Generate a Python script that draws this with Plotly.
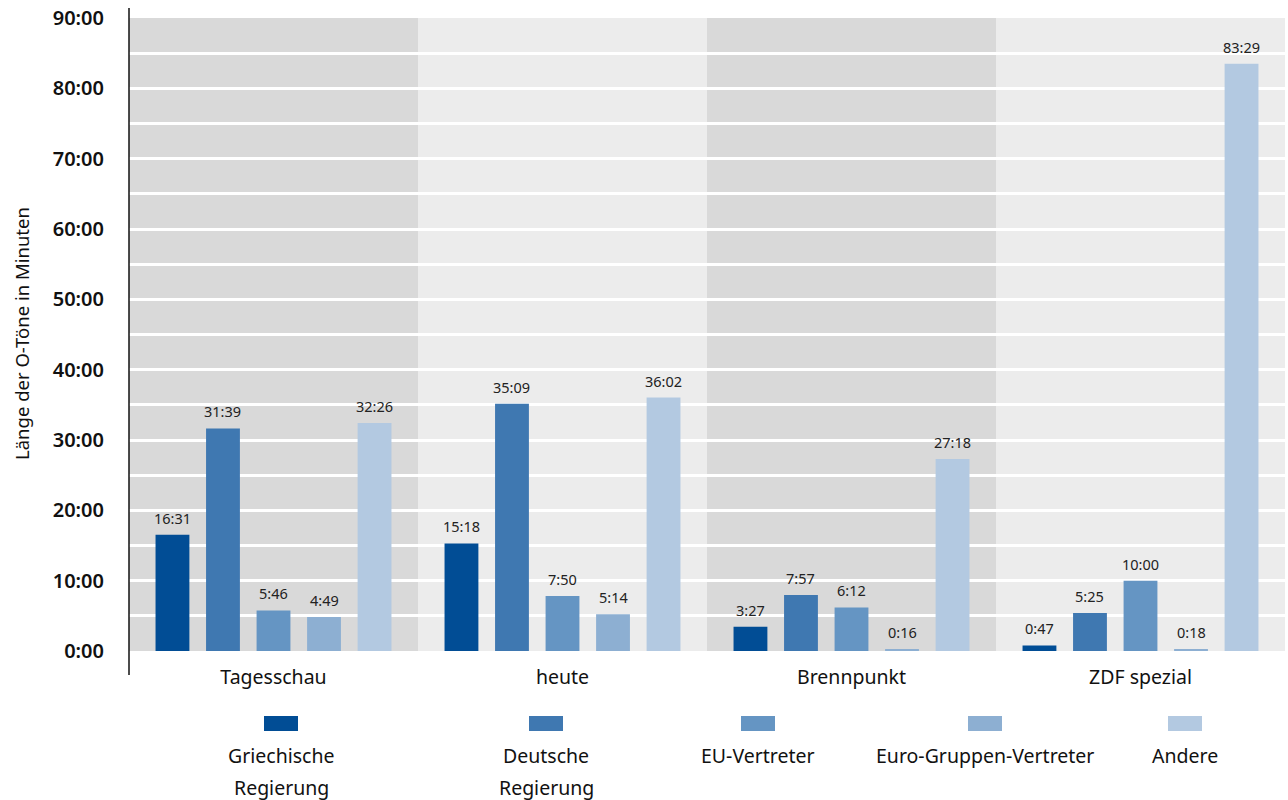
import plotly.graph_objects as go

categories = ["Tagesschau", "heute", "Brennpunkt", "ZDF spezial"]
series_names = ["Griechische Regierung", "Deutsche Regierung", "EU-Vertreter",
                "Euro-Gruppen-Vertreter", "Andere"]
legend_lines = [["Griechische", "Regierung"], ["Deutsche", "Regierung"], ["EU-Vertreter"],
                ["Euro-Gruppen-Vertreter"], ["Andere"]]
griechische = ["16:31", "15:18", "3:27", "0:47"]
deutsche = ["31:39", "35:09", "7:57", "5:25"]
eu = ["5:46", "7:50", "6:12", "10:00"]
eurogruppe = ["4:49", "5:14", "0:16", "0:18"]
andere = ["32:26", "36:02", "27:18", "83:29"]
series_values = [griechische, deutsche, eu, eurogruppe, andere]
colors = ["#014d95", "#3f78b1", "#6595c3", "#8dafd2", "#b3c9e1"]
tick_values = [0, 10, 20, 30, 40, 50, 60, 70, 80, 90]
tick_labels = ["0:00", "10:00", "20:00", "30:00", "40:00", "50:00", "60:00", "70:00", "80:00", "90:00"]
band_colors = ["#d9d9d9", "#ececec", "#d9d9d9", "#ececec"]
y_title = "Länge der O-Töne in Minuten"


def to_minutes(s):
    m, sec = s.split(":")
    return int(m) + int(sec) / 60.0


FONT = "Noto Sans"
W, H = 1288, 800
PL, PR, PT, PB = 129, 1285, 18, 651  # plot area in page pixels
BARGAP, GROUPGAP = 0.126, 0.33


def px(x):
    return (x - PL) / (PR - PL)


def py(y):
    return (PB - y) / (PB - PT)


fig = go.Figure()
n = len(series_names)
slot = (1 - BARGAP) / n
annotations = []
for j, (name, vals, col) in enumerate(zip(series_names, series_values, colors)):
    mins = [to_minutes(v) for v in vals]
    fig.add_trace(go.Bar(
        x=categories, y=mins, name=name,
        marker=dict(color=col, line=dict(width=0)),
        showlegend=False, hoverinfo="skip",
    ))
    for i, (v, m) in enumerate(zip(vals, mins)):
        annotations.append(dict(xref="x", yref="y", x=i + (j - (n - 1) / 2) * slot, y=m,
                                text=v, showarrow=False, xanchor="center", yanchor="bottom",
                                yshift=5, font=dict(family=FONT, size=14.5, color="#222222")))

shapes = []
for i, bc in enumerate(band_colors):
    shapes.append(dict(type="rect", xref="x", yref="y", x0=i - 0.5, x1=i + 0.5,
                       y0=0, y1=90, fillcolor=bc, line=dict(width=0), layer="below"))
shapes.append(dict(type="line", xref="paper", yref="paper", x0=0, x1=0,
                   y0=py(675), y1=py(8), line=dict(color="#111111", width=1.5)))

swatch_centers = [281, 546, 758, 985, 1185]
for cx, col, lines in zip(swatch_centers, colors, legend_lines):
    shapes.append(dict(type="rect", xref="paper", yref="paper",
                       x0=px(cx - 17), x1=px(cx + 17), y0=py(731), y1=py(716),
                       fillcolor=col, line=dict(width=0)))
    for k, ln in enumerate(lines):
        annotations.append(dict(xref="paper", yref="paper", x=px(cx), y=py(755 + 32 * k),
                                text=ln, showarrow=False, xanchor="center", yanchor="middle",
                                font=dict(family=FONT, size=19.5, color="#111111")))

annotations.append(dict(xref="paper", yref="paper", x=px(21), y=py(334), text=y_title,
                        textangle=-90, showarrow=False, xanchor="center", yanchor="middle",
                        font=dict(family=FONT, size=18.5, color="#111111")))

fig.update_layout(
    width=W, height=H,
    margin=dict(l=PL, r=W - PR, t=PT, b=H - PB, autoexpand=False),
    paper_bgcolor="white", plot_bgcolor="white",
    barmode="group", bargap=BARGAP, bargroupgap=GROUPGAP,
    shapes=shapes, annotations=annotations,
    xaxis=dict(showline=False, showgrid=False, ticks="", range=[-0.5, 3.5], automargin=False,
               tickfont=dict(family=FONT, size=19.5, color="#111111"), ticklabelstandoff=12),
    yaxis=dict(range=[0, 90], tickvals=tick_values, ticktext=tick_labels, automargin=False,
               showgrid=True, gridcolor="white", gridwidth=3, zeroline=False, showline=False,
               minor=dict(dtick=5, showgrid=True, gridcolor="white", gridwidth=3),
               tickfont=dict(family=FONT, size=20, color="#111111", weight=600),
               ticklabelstandoff=24, ticklabeloverflow="allow"),
)

fig.write_html("out.html", config={"displayModeBar": False},
               post_script="document.body.style.margin='0';document.body.style.overflow='hidden';")
